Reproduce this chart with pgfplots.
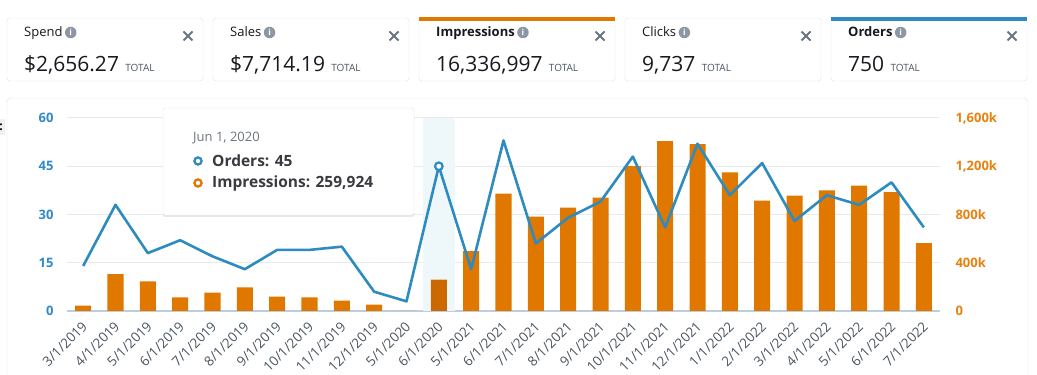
\documentclass[border=0pt]{standalone}
\usepackage{fontspec}
\setmainfont{Open Sans}
\usepackage{pgfplots}
\usepackage{pgfplotstable}
\pgfplotsset{compat=1.18}
\usetikzlibrary{shadows}

\definecolor{ord}{HTML}{2E8BC0}
\definecolor{ordtick}{HTML}{3189C6}
\definecolor{imp}{HTML}{E07800}
\definecolor{imptick}{HTML}{E8820F}
\definecolor{impdark}{HTML}{CC6800}
\definecolor{gridc}{HTML}{E8EBEE}
\definecolor{axisl}{HTML}{BCCDE0}
\definecolor{band}{HTML}{EEF8FB}
\definecolor{bordc}{HTML}{DDE1E5}
\definecolor{txt}{HTML}{16191F}
\definecolor{lbl}{HTML}{4A5562}
\definecolor{iconc}{HTML}{8C97A3}
\definecolor{xgrey}{HTML}{6B7580}

\pgfplotstableread{
x imp ord
0 45 14
1 305 33
2 246 18
3 112 22
4 153 17
5 195 13
6 120 19
7 112 19
8 86 20
9 53 6
10 0 3
11 259.924 45
12 496 13
13 973 53
14 782 21
15 857 29
16 940 34
17 1200 48
18 1409 26
19 1384 52
20 1150 36
21 916 46
22 957 28
23 999 36
24 1040 33
25 985 40
26 563 26
}\datatable

\newcommand{\card}[5]{%
  \draw[bordc, fill=white, rounded corners=3pt] (#1,294) rectangle ++(196,63);
  #5
  \node[anchor=base west, inner sep=0pt, text=txt, font=#4\fontsize{13}{15}\selectfont] (lab) at (#1+17,338) {#2};
  \path (lab.base east) ++(8,4.5) node[circle, fill=iconc, inner sep=0pt, minimum size=11.5pt, text=white, font=\bfseries\fontsize{8.5}{8.5}\selectfont] {i};
  \draw[xgrey, line width=1.8pt] (#1+181-4.5,339-4.5) -- (#1+181+4.5,339+4.5);
  \draw[xgrey, line width=1.8pt] (#1+181-4.5,339+4.5) -- (#1+181+4.5,339-4.5);
  \node[anchor=base west, inner sep=0pt, text=txt, font=\fontsize{21}{24}\selectfont] (v) at (#1+17,303) {#3};
  \node[anchor=base west, inner sep=0pt, text=lbl, font=\fontsize{10}{12}\selectfont] at ([xshift=6pt]v.base east) {TOTAL};
}

\begin{document}
\begin{tikzpicture}[x=1pt,y=1pt]
\clip (0,0) rectangle (1037,375);
\fill[white] (0,0) rectangle (1037,375);
% left-edge fragment
\fill[gray!12] (-5,240) rectangle (5,256);
\node[inner sep=0pt, font=\bfseries\fontsize{12}{12}\selectfont] at (1,248) {:};
% panel
\draw[bordc, fill=white, rounded corners=4pt] (7,-10) rectangle (1028,277);
% cards
\card{7}{Spend}{\$2,656.27}{}{}
\card{213}{Sales}{\$7,714.19}{}{}
\card{419}{Impressions}{16,336,997}{\bfseries}{\fill[imp] (419,354) rectangle ++(196,3.5);}
\card{625}{Clicks}{9,737}{}{}
\card{831}{Orders}{750}{\bfseries}{\fill[ord] (831,354) rectangle ++(196,3.5);}

% impressions axis (right)
\begin{axis}[
  at={(67pt,64pt)}, anchor=south west, scale only axis,
  width=873pt, height=193pt,
  xmin=-0.5, xmax=26.5, ymin=0, ymax=1600,
  axis x line*=bottom, axis y line*=right,
  axis line style={-},
  x axis line style={axisl, line width=1.5pt},
  y axis line style={draw=none},
  major tick length=0pt,
  xtick={0,...,26},
  xticklabels={3/1/2019,4/1/2019,5/1/2019,6/1/2019,7/1/2019,8/1/2019,9/1/2019,10/1/2019,11/1/2019,12/1/2019,5/1/2020,6/1/2020,5/1/2021,6/1/2021,7/1/2021,8/1/2021,9/1/2021,10/1/2021,11/1/2021,12/1/2021,1/1/2022,2/1/2022,3/1/2022,4/1/2022,5/1/2022,6/1/2022,7/1/2022},
  x tick label style={xshift=-2pt, yshift=-8pt, rotate=45, anchor=north east, text=lbl, font=\fontsize{13.5}{15}\selectfont, inner sep=1pt},
  ytick={0,400,800,1200,1600},
  yticklabels={0,400k,800k,{1,200k},{1,600k}},
  y tick label style={text=imptick, font=\bfseries\fontsize{13}{15}\selectfont, anchor=west, xshift=12pt},
  ymajorgrids, grid style={gridc, line width=1pt},
  clip=false,
]
\addplot[ybar, bar width=1, bar shift=0pt, fill=band, draw=none] coordinates {(11,1600)};
\addplot[ybar, bar width=0.495, bar shift=0pt, fill=imp, draw=none] table[x=x, y=imp] {\datatable};
\addplot[ybar, bar width=0.495, bar shift=0pt, fill=impdark, draw=none] coordinates {(11,259.924)};
\end{axis}

% orders axis (left)
\begin{axis}[
  at={(67pt,64pt)}, anchor=south west, scale only axis,
  width=873pt, height=193pt,
  xmin=-0.5, xmax=26.5, ymin=0, ymax=60,
  axis y line*=left, hide x axis,
  axis line style={-},
  y axis line style={draw=none},
  major tick length=0pt,
  ytick={0,15,30,45,60},
  /pgf/number format/assume math mode=true,
  y tick label style={text=ordtick, font=\bfseries\fontsize{13}{15}\selectfont, anchor=east, xshift=-10pt},
  clip=false,
]
\addplot[ord, line width=2.6pt, line join=round, mark=none] table[x=x, y=ord] {\datatable};
\addplot[ord, line width=2.2pt, only marks, mark=*, mark size=3.8pt, mark options={fill=white}] coordinates {(11,45)};
\end{axis}

% tooltip
\draw[bordc, fill=white, rounded corners=2pt, drop shadow={shadow xshift=0pt, shadow yshift=-2pt, opacity=0.18}] (163,160) rectangle (414,267);
\node[anchor=base west, inner sep=0pt, text=xgrey, font=\fontsize{13}{15}\selectfont] at (193,233) {Jun 1, 2020};
\draw[ord, line width=2.3pt, fill=white] (198,214) circle (3.6);
\node[anchor=base west, inner sep=0pt, text=txt!85, font=\bfseries\fontsize{15.5}{18}\selectfont] at (212,208) {Orders: 45};
\draw[imp, line width=2.3pt, fill=white] (198,192) circle (3.6);
\node[anchor=base west, inner sep=0pt, text=txt!85, font=\bfseries\fontsize{15.5}{18}\selectfont] at (212,187) {Impressions: 259,924};
\end{tikzpicture}
\end{document}
